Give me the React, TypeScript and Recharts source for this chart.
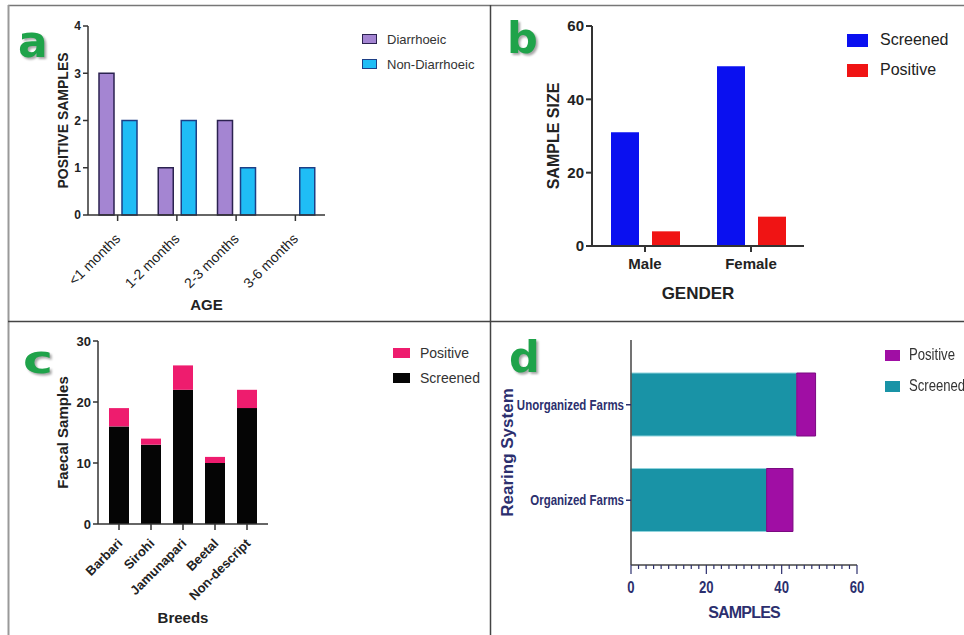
import React from "react";
import { BarChart, Bar, XAxis, YAxis, Legend } from "recharts";

// panel a - positive samples by age
const ageGroups = ["<1 months", "1-2 months", "2-3 months", "3-6 months"];
const diarrhoeic = [3, 1, 2, 0];
const nonDiarrhoeic = [2, 2, 1, 1];
const ageTicks = [0, 1, 2, 3, 4];

// panel b - gender
const genders = ["Male", "Female"];
const genderScreened = [31, 49];
const genderPositive = [4, 8];
const genderTicks = [0, 20, 40, 60];

// panel c - breeds
const breeds = ["Barbari", "Sirohi", "Jamunapari", "Beetal", "Non-descript"];
const breedScreened = [16, 13, 22, 10, 19];
const breedPositive = [3, 1, 4, 1, 3];
const breedTicks = [0, 10, 20, 30];

// panel d - rearing system
const farms = ["Unorganized Farms", "Organized Farms"];
const farmScreened = [44, 36];
const farmPositive = [5, 7];
const sampleTicks = [
  0, 2, 4, 6, 8, 10, 12, 14, 16, 18, 20, 22, 24, 26, 28, 30, 32, 34, 36, 38,
  40, 42, 44, 46, 48, 50, 52, 54, 56, 58, 60,
];

const ageData = ageGroups.map((age, i) => ({
  age,
  Diarrhoeic: diarrhoeic[i],
  "Non-Diarrhoeic": nonDiarrhoeic[i],
}));
const genderData = genders.map((gender, i) => ({
  gender,
  Screened: genderScreened[i],
  Positive: genderPositive[i],
}));
const breedData = breeds.map((breed, i) => ({
  breed,
  Screened: breedScreened[i],
  Positive: breedPositive[i],
}));
const farmData = farms.map((farm, i) => ({
  farm,
  Screened: farmScreened[i],
  Positive: farmPositive[i],
}));

const NAVY = "#2c2f6e";
const SQUEEZE = 0.82; // panel d uses a condensed face

// legend drawn from the payload, in the order given
const makeLegend =
  (order: string[], o: any) =>
  ({ payload }: any) => {
    const items = order
      .map((name) => (payload || []).find((p: any) => p.value === name))
      .filter(Boolean);
    return (
      <div>
        {items.map((p: any) => (
          <div
            key={p.value}
            style={{ display: "flex", alignItems: "center", height: o.rowH }}
          >
            <span
              style={{
                display: "inline-block",
                boxSizing: "border-box",
                width: o.w,
                height: o.h,
                background: p.color,
                border: o.stroke ? `1.5px solid ${o.stroke[p.value]}` : "none",
                marginRight: o.gap,
              }}
            />
            <span
              style={{
                display: "inline-block",
                fontSize: o.size,
                color: o.color,
                whiteSpace: "nowrap",
                transform: o.squeeze ? `scaleX(${o.squeeze})` : undefined,
                transformOrigin: "left center",
              }}
            >
              {p.value}
            </span>
          </div>
        ))}
      </div>
    );
  };

const SlantTick = (props: any) => {
  const { x, y, payload, dx, dy, fontSize, fontWeight, fill } = props;
  return (
    <g transform={`translate(${x + dx},${y + dy}) rotate(-45)`}>
      <text
        x={0}
        y={0}
        dy="0.35em"
        textAnchor="end"
        fontSize={fontSize}
        fontWeight={fontWeight}
        fill={fill}
      >
        {payload.value}
      </text>
    </g>
  );
};

const FarmTick = (props: any) => {
  const { x, y, payload } = props;
  return (
    <g transform={`translate(${x},${y}) scale(${SQUEEZE},1)`}>
      <text
        x={0}
        y={0}
        dy="0.35em"
        textAnchor="end"
        fontSize={14}
        fontWeight="bold"
        fill={NAVY}
      >
        {payload.value}
      </text>
    </g>
  );
};

const SampleTick = (props: any) => {
  const { x, y, payload } = props;
  const major = payload.value % 20 === 0;
  return (
    <g>
      <line x1={x} x2={x} y1={y} y2={y + (major ? 9 : 4)} stroke={NAVY} strokeWidth={1.2} />
      {major && (
        <g transform={`translate(${x},${y + 28}) scale(${SQUEEZE},1)`}>
          <text x={0} y={0} textAnchor="middle" fontSize={16} fontWeight="bold" fill={NAVY}>
            {payload.value}
          </text>
        </g>
      )}
    </g>
  );
};

const letterStyle: any = {
  fontFamily: "'DejaVu Sans', sans-serif",
  fontWeight: "bold",
  fill: "#1fa34a",
  filter: "drop-shadow(2px 2px 1px rgba(0,0,0,0.35))",
};

export default function App() {
  return (
    <div
      style={{
        position: "absolute",
        left: 0,
        top: 0,
        width: 964,
        height: 635,
        background: "#fff",
        overflow: "hidden",
        fontFamily: "'Liberation Sans', Arial, sans-serif",
      }}
    >
      {/* a */}
      <div style={{ position: "absolute", left: 0, top: 0 }}>
        <BarChart
          width={490}
          height={321}
          data={ageData}
          margin={{ top: 26, right: 165, bottom: 16, left: 28 }}
          barSize={15}
          barGap={8}
        >
          <XAxis
            dataKey="age"
            height={90}
            interval={0}
            axisLine={{ stroke: "#333", strokeWidth: 1.5 }}
            tickLine={{ stroke: "#333", strokeWidth: 1.5 }}
            tick={<SlantTick dx={0} dy={13} fontSize={14} fill="#222" />}
            label={{
              value: "AGE",
              position: "center",
              dy: 45,
              style: { fontSize: 15, fill: "#222", fontWeight: "bold" },
            }}
          />
          <YAxis
            width={60}
            domain={[0, 4]}
            ticks={ageTicks}
            tickSize={5}
            axisLine={{ stroke: "#333", strokeWidth: 1.5 }}
            tickLine={{ stroke: "#333", strokeWidth: 1.5 }}
            tick={{ fontSize: 12, fill: "#222", fontWeight: "bold" }}
            label={{
              value: "POSITIVE SAMPLES",
              angle: -90,
              position: "center",
              dx: 5,
              style: { fontSize: 14, fill: "#222", fontWeight: "bold" },
            }}
          />
          <Legend
            layout="vertical"
            align="center"
            verticalAlign="middle"
            wrapperStyle={{ left: 362, top: 26.5, width: "auto" }}
            content={makeLegend(["Diarrhoeic", "Non-Diarrhoeic"], {
              rowH: 25,
              w: 15,
              h: 10,
              gap: 10,
              size: 13,
              color: "#333",
              stroke: { Diarrhoeic: "#2b2250", "Non-Diarrhoeic": "#1d3f86" },
            })}
          />
          <Bar
            dataKey="Diarrhoeic"
            fill="#a485d2"
            stroke="#2b2250"
            strokeWidth={1.5}
            isAnimationActive={false}
          />
          <Bar
            dataKey="Non-Diarrhoeic"
            fill="#1fbdf6"
            stroke="#1d3f86"
            strokeWidth={1.5}
            isAnimationActive={false}
          />
        </BarChart>
      </div>

      {/* b */}
      <div style={{ position: "absolute", left: 490, top: 0 }}>
        <BarChart
          width={474}
          height={321}
          data={genderData}
          margin={{ top: 26, right: 160, bottom: 15, left: 32 }}
          barSize={28}
          barGap={13}
        >
          <XAxis
            dataKey="gender"
            height={60}
            axisLine={{ stroke: "#333", strokeWidth: 2 }}
            tickLine={{ stroke: "#333", strokeWidth: 2 }}
            tick={{ fontSize: 15, fill: "#222", fontWeight: "bold" }}
            tickMargin={6}
            label={{
              value: "GENDER",
              position: "center",
              dy: 17,
              style: { fontSize: 17, fill: "#222", fontWeight: "bold" },
            }}
          />
          <YAxis
            width={70}
            domain={[0, 60]}
            ticks={genderTicks}
            tickSize={6}
            axisLine={{ stroke: "#333", strokeWidth: 2 }}
            tickLine={{ stroke: "#333", strokeWidth: 2 }}
            tick={{ fontSize: 15, fill: "#222", fontWeight: "bold" }}
            label={{
              value: "SAMPLE SIZE",
              angle: -90,
              position: "center",
              dx: -4,
              style: { fontSize: 16, fill: "#222", fontWeight: "bold" },
            }}
          />
          <Legend
            layout="vertical"
            align="center"
            verticalAlign="middle"
            wrapperStyle={{ left: 357, top: 25, width: "auto" }}
            content={makeLegend(["Screened", "Positive"], {
              rowH: 30,
              w: 21,
              h: 13,
              gap: 12,
              size: 16,
              color: "#222",
            })}
          />
          <Bar dataKey="Screened" fill="#0a10f0" isAnimationActive={false} />
          <Bar dataKey="Positive" fill="#f01414" isAnimationActive={false} />
        </BarChart>
      </div>

      {/* c */}
      <div style={{ position: "absolute", left: 0, top: 321 }}>
        <BarChart
          width={490}
          height={314}
          data={breedData}
          margin={{ top: 20, right: 222, bottom: 16, left: 38 }}
          barSize={20}
        >
          <XAxis
            dataKey="breed"
            height={95}
            interval={0}
            padding={{ left: 5, right: 5 }}
            axisLine={{ stroke: "#333", strokeWidth: 1.5 }}
            tickLine={{ stroke: "#333", strokeWidth: 1.5 }}
            tick={<SlantTick dx={1} dy={9} fontSize={13} fontWeight="bold" fill="#222" />}
            label={{
              value: "Breeds",
              position: "center",
              dy: 46,
              style: { fontSize: 15, fill: "#222", fontWeight: "bold" },
            }}
          />
          <YAxis
            width={60}
            domain={[0, 30]}
            ticks={breedTicks}
            tickSize={5}
            axisLine={{ stroke: "#333", strokeWidth: 1.5 }}
            tickLine={{ stroke: "#333", strokeWidth: 1.5 }}
            tick={{ fontSize: 13, fill: "#222", fontWeight: "bold" }}
            label={{
              value: "Faecal Samples",
              angle: -90,
              position: "center",
              dx: -5,
              style: { fontSize: 15, fill: "#222", fontWeight: "bold" },
            }}
          />
          <Legend
            layout="vertical"
            align="center"
            verticalAlign="middle"
            wrapperStyle={{ left: 393, top: 19.5, width: "auto" }}
            content={makeLegend(["Positive", "Screened"], {
              rowH: 25,
              w: 17,
              h: 10,
              gap: 10,
              size: 14,
              color: "#333",
            })}
          />
          <Bar dataKey="Screened" stackId="s" fill="#050505" isAnimationActive={false} />
          <Bar dataKey="Positive" stackId="s" fill="#ee1c6e" isAnimationActive={false} />
        </BarChart>
      </div>

      {/* d */}
      <div style={{ position: "absolute", left: 490, top: 321 }}>
        <BarChart
          width={474}
          height={314}
          data={farmData}
          layout="vertical"
          margin={{ top: 19, right: 107, bottom: 15, left: 5 }}
          barSize={63}
        >
          <XAxis
            type="number"
            domain={[0, 60]}
            ticks={sampleTicks}
            interval={0}
            height={55}
            tickSize={0}
            tickMargin={0}
            tickLine={false}
            axisLine={{ stroke: "#444", strokeWidth: 1.5 }}
            tick={<SampleTick />}
            label={{
              value: "SAMPLES",
              position: "center",
              dy: 20,
              style: { fontSize: 16, fill: NAVY, fontWeight: "bold", letterSpacing: -0.8 },
            }}
          />
          <YAxis
            type="category"
            dataKey="farm"
            width={136}
            padding={{ top: 17, bottom: 17 }}
            tickSize={5}
            axisLine={{ stroke: "#444", strokeWidth: 1.5 }}
            tickLine={{ stroke: NAVY, strokeWidth: 1.5 }}
            tick={<FarmTick />}
            label={{
              value: "Rearing System",
              angle: -90,
              position: "center",
              dx: -56,
              style: { fontSize: 17, fill: NAVY, fontWeight: "bold" },
            }}
          />
          <Legend
            layout="vertical"
            align="center"
            verticalAlign="middle"
            wrapperStyle={{ left: 395, top: 18.5, width: "auto" }}
            content={makeLegend(["Positive", "Screened"], {
              rowH: 31,
              w: 15,
              h: 11,
              gap: 9,
              size: 16,
              color: "#333",
              squeeze: SQUEEZE,
            })}
          />
          <Bar
            dataKey="Screened"
            stackId="s"
            fill="#1993a6"
            stroke="#8fd3dc"
            isAnimationActive={false}
          />
          <Bar
            dataKey="Positive"
            stackId="s"
            fill="#a00ea4"
            stroke="#7a0a80"
            isAnimationActive={false}
          />
        </BarChart>
      </div>

      {/* panel frame and letters */}
      <svg
        width={964}
        height={635}
        style={{ position: "absolute", left: 0, top: 0, pointerEvents: "none" }}
      >
        <line x1={8} x2={964} y1={5.5} y2={5.5} stroke="#777" strokeWidth={1.5} />
        <line x1={8.5} x2={8.5} y1={5} y2={635} stroke="#999" strokeWidth={2} />
        <line x1={490.5} x2={490.5} y1={5} y2={635} stroke="#444" strokeWidth={1.5} />
        <line x1={8} x2={964} y1={321.5} y2={321.5} stroke="#444" strokeWidth={1.5} />
        <text x={18} y={57} fontSize={44} style={letterStyle}>a</text>
        <text x={507} y={53} fontSize={43} style={letterStyle}>b</text>
        <text
          x={23}
          y={373}
          fontSize={37}
          textLength={30}
          lengthAdjust="spacingAndGlyphs"
          style={letterStyle}
        >
          c
        </text>
        <text x={509} y={372} fontSize={43} style={letterStyle}>d</text>
      </svg>
    </div>
  );
}
